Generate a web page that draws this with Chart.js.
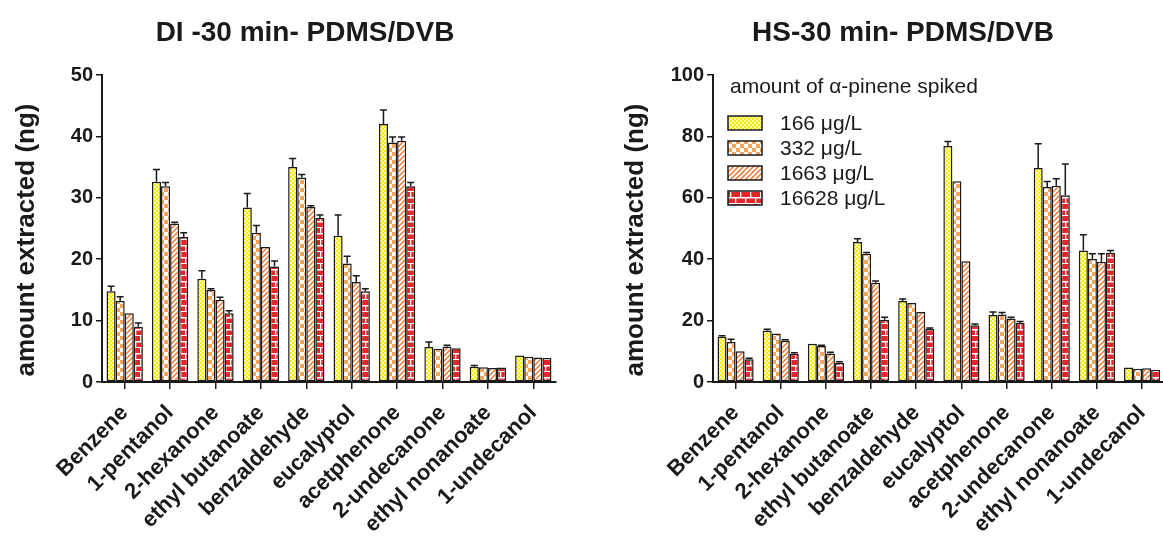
<!DOCTYPE html>
<html>
<head>
<meta charset="utf-8">
<script src="https://cdn.jsdelivr.net/npm/chart.js@4.4.0/dist/chart.umd.min.js"></script>
<style>
html,body{margin:0;padding:0;background:#fff;}
body{width:1163px;height:538px;overflow:hidden;position:relative;}
#w1{position:absolute;left:0;top:0;}
#w2{position:absolute;left:580px;top:0;}
</style>
</head>
<body>
<div id="w1"><canvas id="c1" width="580" height="538"></canvas></div>
<div id="w2"><canvas id="c2" width="592" height="538"></canvas></div>
<script>
// ---------- DATA ----------
const categories = ['Benzene','1-pentanol','2-hexanone','ethyl butanoate','benzaldehyde','eucalyptol','acetphenone','2-undecanone','ethyl nonanoate','1-undecanol'];
const seriesLabels = ['166 \u03bcg/L','332 \u03bcg/L','1663 \u03bcg/L','16628 \u03bcg/L'];
const titleDI = 'DI -30 min- PDMS/DVB';
const titleHS = 'HS-30 min- PDMS/DVB';
const yTitle = 'amount extracted (ng)';
const legendTitle = 'amount of \u03b1-pinene spiked';
const yTicksDI = [0,10,20,30,40,50];
const yTicksHS = [0,20,40,60,80,100];

// DI (left)
const di166   = [14.8, 32.6, 16.8, 28.4, 35.0, 23.8, 42.0, 5.7, 2.5, 4.3];
const di332   = [13.2, 31.9, 15.0, 24.3, 33.3, 19.3, 39.0, 5.4, 2.4, 4.1];
const di1663  = [11.2, 25.8, 13.4, 22.0, 28.5, 16.3, 39.3, 5.8, 2.3, 4.0];
const di16628 = [ 9.0, 23.6, 11.2, 18.8, 26.7, 14.8, 31.9, 5.5, 2.35, 3.9];
const diErr166   = [0.8, 2.0, 1.3, 2.3, 1.4, 3.4, 2.3, 0.8, 0.2, 0.1];
const diErr332   = [0.7, 0.6, 0.2, 1.2, 0.5, 1.2, 0.9, 0.1, 0.05, 0.05];
const diErr1663  = [0.1, 0.2, 0.4, 0.1, 0.2, 1.0, 0.6, 0.2, 0.05, 0.05];
const diErr16628 = [0.6, 0.7, 0.4, 0.9, 0.5, 0.4, 0.6, 0.1, 0.1, 0.05];

// HS (right)
const hs166   = [14.7, 16.8, 12.5, 45.6, 26.4, 76.9, 21.8, 69.7, 42.8, 4.7];
const hs332   = [13.0, 15.8, 11.7, 41.8, 25.7, 65.4, 22.0, 63.5, 40.1, 4.3];
const hs1663  = [10.0, 13.5,  9.3, 32.3, 22.8, 39.3, 20.7, 63.9, 39.2, 4.5];
const hs16628 = [ 7.4,  9.2,  6.3, 20.3, 17.3, 18.5, 19.2, 60.8, 42.1, 4.0];
const hsErr166   = [0.4, 0.4, 0.2, 1.1, 0.6, 1.4, 1.0, 7.9, 5.2, 0.1];
const hsErr332   = [0.9, 0.2, 0.3, 0.4, 0.2, 0.2, 0.6, 1.8, 1.7, 0.1];
const hsErr1663  = [0.2, 0.3, 0.4, 0.6, 0.2, 0.2, 0.4, 2.3, 2.6, 0.1];
const hsErr16628 = [0.3, 0.3, 0.3, 0.8, 0.3, 0.4, 0.5, 10.2, 0.7, 0.1];

// ---------- STYLE ----------
const FONT = '"Liberation Sans", Arial, Helvetica, sans-serif';
const INK = '#1a1a1a';

function makePattern(type){
  const c = document.createElement('canvas');
  let g;
  if(type==='fine'){
    c.width=4;c.height=4;g=c.getContext('2d');
    g.fillStyle='#f5ec00';g.fillRect(0,0,4,4);
    g.fillStyle='#fffbb0';g.fillRect(0,0,2,2);g.fillRect(2,2,2,2);
  } else if(type==='check'){
    c.width=8;c.height=8;g=c.getContext('2d');
    g.fillStyle='#ffffff';g.fillRect(0,0,8,8);
    g.fillStyle='#f6a558';g.fillRect(0,0,4,4);g.fillRect(4,4,4,4);
  } else if(type==='diag'){
    c.width=5;c.height=5;g=c.getContext('2d');
    g.fillStyle='#ffffff';g.fillRect(0,0,5,5);
    g.strokeStyle='#f07830';g.lineWidth=1.5;
    g.beginPath();
    g.moveTo(-1,6);g.lineTo(6,-1);
    g.moveTo(-1,1);g.lineTo(1,-1);
    g.moveTo(4,6);g.lineTo(6,4);
    g.stroke();
  } else {
    c.width=10;c.height=12;g=c.getContext('2d');
    g.fillStyle='#e4262b';g.fillRect(0,0,10,12);
    g.fillStyle='#ffffff';
    g.fillRect(0,5,10,1.5);g.fillRect(0,11,10,1);
    g.fillRect(0,0,1.3,5);g.fillRect(5,6,1.3,5);
  }
  return g.createPattern(c,'repeat');
}
const fills = [makePattern('fine'),makePattern('check'),makePattern('diag'),makePattern('brick')];

function datasets(vals, errs){
  return vals.map((v,i)=>({
    label: seriesLabels[i],
    data: v,
    errors: errs[i],
    backgroundColor: fills[i],
    borderColor: INK,
    borderWidth: 1.5,
    borderSkipped: false,
    categoryPercentage: 0.8,
    barPercentage: 1.0
  }));
}

const errorBars = {
  id:'errorBars',
  afterDatasetsDraw(chart){
    const ctx = chart.ctx, ys = chart.scales.y;
    ctx.save();
    ctx.strokeStyle = INK; ctx.lineWidth = 1.5;
    chart.data.datasets.forEach((ds,i)=>{
      const meta = chart.getDatasetMeta(i);
      meta.data.forEach((el,j)=>{
        const e = ds.errors[j];
        if(!e) return;
        const y0 = el.y, y1 = ys.getPixelForValue(ds.data[j]+e);
        if(y0 - y1 < 0.8) return;
        ctx.beginPath();
        ctx.moveTo(el.x, y0); ctx.lineTo(el.x, y1);
        ctx.moveTo(el.x-3.5, y1); ctx.lineTo(el.x+3.5, y1);
        ctx.stroke();
      });
    });
    ctx.restore();
  }
};

function textPlugin(title, titleX, yTitleX, legend){
  return {
    id:'texts',
    afterDraw(chart){
      const ctx = chart.ctx;
      ctx.save();
      ctx.fillStyle = INK;
      ctx.font = 'bold 28px ' + FONT;
      ctx.textAlign = 'center'; ctx.textBaseline = 'alphabetic';
      ctx.fillText(title, titleX, 41);
      ctx.save();
      ctx.translate(yTitleX, 240);
      ctx.rotate(-Math.PI/2);
      ctx.font = 'bold 26px ' + FONT;
      ctx.textBaseline = 'middle';
      ctx.fillText(yTitle, 0, 0);
      ctx.restore();
      if(legend){
        ctx.textAlign = 'left';
        ctx.textBaseline = 'alphabetic';
        ctx.font = '21px ' + FONT;
        ctx.fillText(legendTitle, 150, 93);
        chart.data.datasets.forEach((ds,i)=>{
          const cy = 123 + i*25;
          ctx.fillStyle = ds.backgroundColor;
          ctx.fillRect(148, cy-7, 34, 14);
          ctx.strokeStyle = INK; ctx.lineWidth = 1.5;
          ctx.strokeRect(148, cy-7, 34, 14);
          ctx.fillStyle = INK;
          ctx.textBaseline = 'middle';
          ctx.fillText(ds.label, 200, cy+1);
        });
      }
      ctx.restore();
    }
  };
}

function makeOptions(ticks, yWidth, padRight){
  return {
    responsive:false,
    animation:false,
    layout:{padding:{top:75,left:0,right:padRight,bottom:0}},
    plugins:{legend:{display:false},tooltip:{enabled:false},title:{display:false}},
    scales:{
      x:{
        grid:{display:true,drawOnChartArea:false,drawTicks:true,tickLength:7,color:INK,lineWidth:1.5,offset:false},
        border:{display:true,color:INK,width:2},
        ticks:{color:INK,font:{family:FONT,size:22,weight:'bold'},minRotation:45,maxRotation:45,autoSkip:false,padding:11},
        afterFit(s){ s.height = 538-382; }
      },
      y:{
        min:ticks[0], max:ticks[ticks.length-1],
        afterBuildTicks(s){ s.ticks = ticks.map(v=>({value:v})); },
        grid:{display:true,drawOnChartArea:false,drawTicks:true,tickLength:6,color:INK,lineWidth:1.5},
        border:{display:true,color:INK,width:2},
        ticks:{color:INK,font:{family:FONT,size:20,weight:'bold'},padding:3},
        afterFit(s){ s.width = yWidth; }
      }
    }
  };
}

new Chart(document.getElementById('c1'),{
  type:'bar',
  data:{labels:categories, datasets:datasets([di166,di332,di1663,di16628],[diErr166,diErr332,diErr1663,diErr16628])},
  options:makeOptions(yTicksDI, 102, 24),
  plugins:[errorBars, textPlugin(titleDI, 305, 27, false)]
});

new Chart(document.getElementById('c2'),{
  type:'bar',
  data:{labels:categories, datasets:datasets([hs166,hs332,hs1663,hs16628],[hsErr166,hsErr332,hsErr1663,hsErr16628])},
  options:makeOptions(yTicksHS, 133, 5),
  plugins:[errorBars, textPlugin(titleHS, 323, 56, true)]
});
</script>
</body>
</html>
